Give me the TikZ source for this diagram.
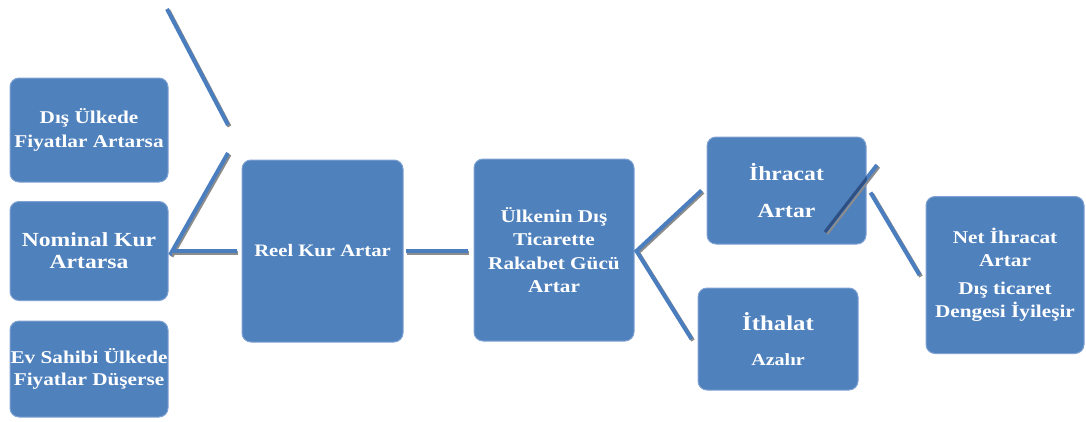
\documentclass[tikz,border=0pt]{standalone}
\usepackage{fontspec}
\setmainfont{Liberation Serif}[FakeStretch=1.18]
\usetikzlibrary{calc}
\definecolor{boxblue}{HTML}{4F81BD}
\definecolor{boxedge}{HTML}{7FA2D2}
\definecolor{lineblue}{HTML}{4A7EBF}
\definecolor{shadowgray}{HTML}{8C8C8C}
\definecolor{navyline}{HTML}{2E4F82}
\tikzset{
  box/.style={rectangle, rounded corners=9pt, fill=boxblue, draw=boxedge,
    line width=1pt, text=white, align=center, inner sep=0pt},
  fs/.style 2 args={font={\bfseries\fontsize{#1}{#2}\selectfont}},
  conn/.style={draw=lineblue, line width=4pt,
    preaction={draw=shadowgray, line width=4pt,
      transform canvas={xshift=1.5pt,yshift=-1.5pt}}},
}
\begin{document}
\begin{tikzpicture}[x=1pt,y=-1pt]
\useasboundingbox (0,0) rectangle (1086,421);
% boxes
\node[box, fs={18}{24}, minimum width=158pt, minimum height=104pt] (A) at (89,130)
  {Dış Ülkede\\Fiyatlar Artarsa};
\node[box, fs={20}{22}, minimum width=158pt, minimum height=99pt] (B) at (89,251)
  {Nominal Kur\\Artarsa};
\node[box, fs={18}{21.5}, minimum width=158pt, minimum height=96pt] (C) at (89,369)
  {Ev Sahibi Ülkede\\Fiyatlar Düşerse};
\node[box, fs={17.5}{21}, minimum width=161pt, minimum height=182pt] (D) at (322.5,251)
  {Reel Kur Artar};
\node[box, fs={18}{23.5}, minimum width=160pt, minimum height=182pt] (E) at (554,250)
  {Ülkenin Dış\\Ticarette\\Rakabet Gücü\\Artar};
\node[box, fs={20}{37}, minimum width=159pt, minimum height=107pt] (F) at (786.5,190.5)
  {İhracat\\Artar};
\node[box, fs={21}{35}, minimum width=160pt, minimum height=102pt] (G) at (778,339)
  {İthalat\\\fontsize{17}{35}\selectfont Azalır};
\node[box, fs={18}{23}, minimum width=158pt, minimum height=157pt] (H) at (1005,275)
  {Net İhracat\\Artar\\[5pt]Dış ticaret\\Dengesi İyileşir};
% free ends
\coordinate (t1) at (167,9);
\coordinate (t2) at (228,125);
\coordinate (p1) at (228,153);
\coordinate (bj) at (170,255);
\coordinate (s1) at (877,165);
\coordinate (s2) at (825,232);
\coordinate (ew) at ($(E.west |- D.east)+(-6,0)$);
% connectors
\draw[conn] (t1) -- (t2);
\draw[conn] (p1) -- (bj);
\draw[conn] ([xshift=2pt]B.east) -- ([xshift=-5pt]D.west);
\draw[conn] ([xshift=2pt]D.east) -- (ew);
\draw[conn] ([xshift=-5pt]F.west) -- ([xshift=2pt,yshift=-1pt]E.east) -- ([xshift=-6pt]G.west);
\draw[conn] ([xshift=4pt,yshift=-2pt]F.east) -- ([xshift=-6pt]H.west);
\draw[conn] (s1) -- (s2);
\begin{scope}
  \clip[rounded corners=9pt] (F.south west) rectangle (F.north east);
  \draw[navyline, line width=3pt] (s1) -- (s2);
\end{scope}
\end{tikzpicture}
\end{document}
